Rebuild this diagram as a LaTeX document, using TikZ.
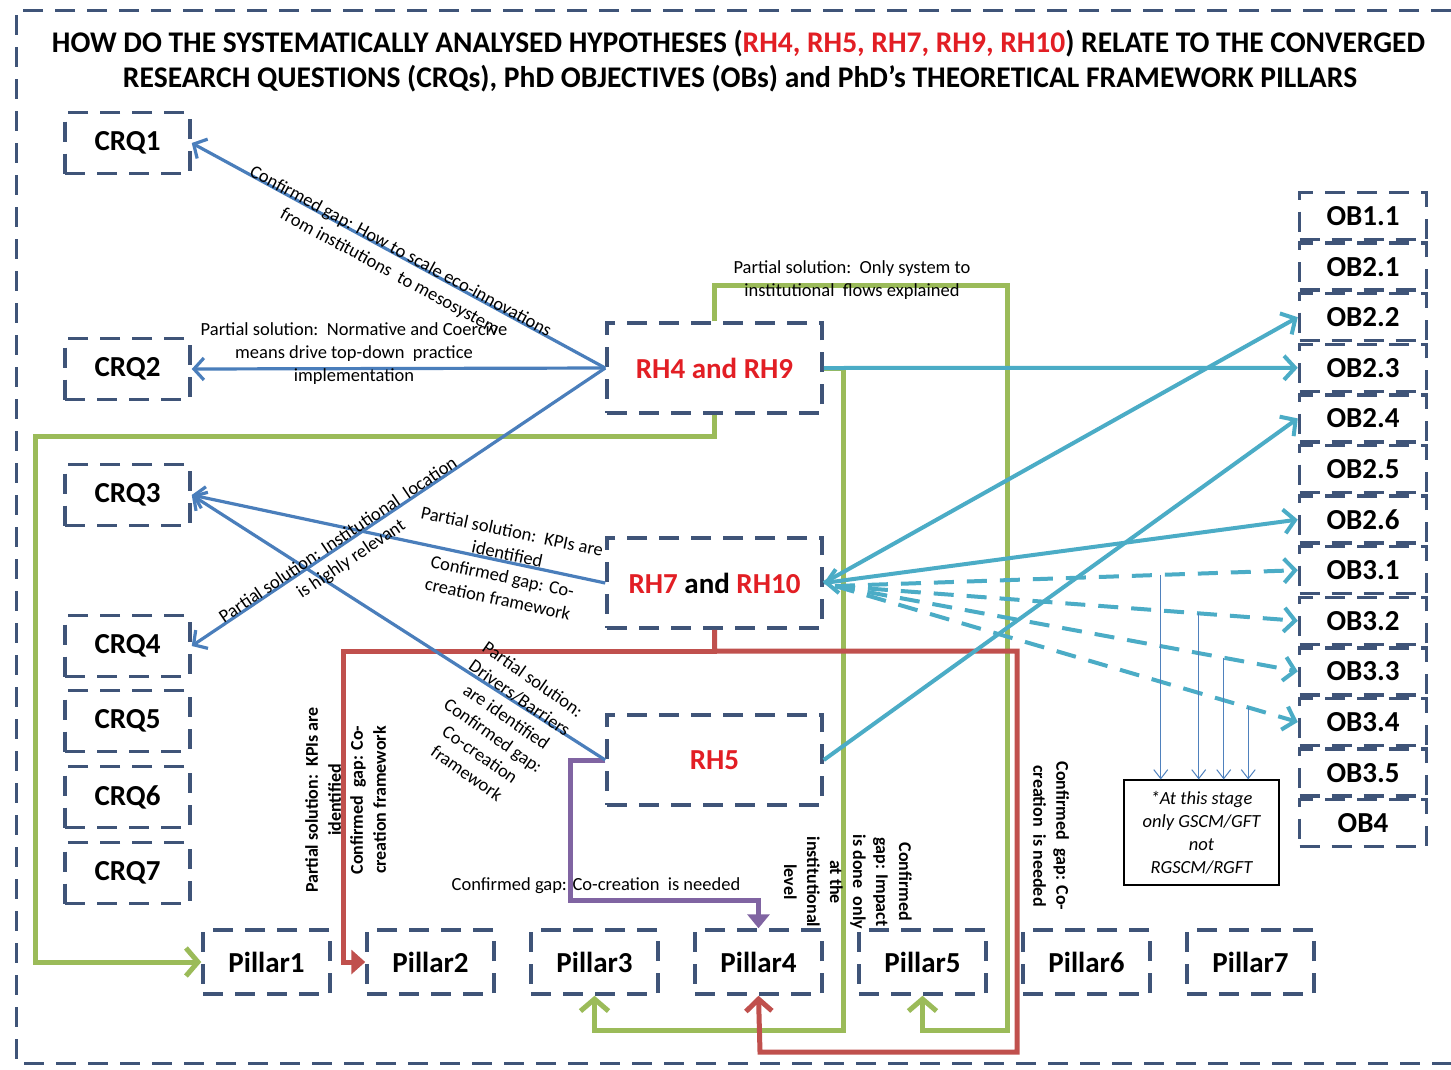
\documentclass[tikz,border=0pt]{standalone}
\usepackage{fontspec}
\usepackage{graphicx}
\setmainfont{Carlito}
\usetikzlibrary{arrows.meta,calc}
\definecolor{boxc}{RGB}{63,84,120}
\definecolor{rhred}{RGB}{226,30,36}
\definecolor{arrblue}{RGB}{74,126,187}
\definecolor{arrteal}{RGB}{75,172,198}
\definecolor{lngreen}{RGB}{155,187,89}
\definecolor{lnred}{RGB}{192,80,77}
\definecolor{lnpurple}{RGB}{128,100,162}
\definecolor{thinblue}{RGB}{79,129,189}

\begin{document}
\begin{tikzpicture}[x=1pt,y=-1pt,
  dbox/.style={draw=boxc, line width=3.5pt, dash pattern=on 20pt off 12pt,
    inner sep=0pt, font=\fontsize{29}{33}\selectfont\bfseries},
  crq/.style={dbox, minimum width=125pt, minimum height=61pt},
  rh/.style={dbox, minimum width=215pt, minimum height=90pt, text=rhred},
  ob/.style={dbox, minimum width=127pt, minimum height=47pt},
  pil/.style={dbox, minimum width=127pt, minimum height=64pt},
  lbl/.style={font=\fontsize{18.5}{23}\selectfont, align=center, inner sep=0pt},
  blbl/.style={font=\fontsize{18}{23}\selectfont\bfseries, align=center, inner sep=0pt},
  bluearr/.style={draw=arrblue, line width=3.2pt,
    -{Straight Barb[length=10pt,width=22pt]}},
  tealarr/.style={draw=arrteal, line width=4pt,
    -{Straight Barb[length=11pt,width=24pt]}},
  tealdash/.style={tealarr, dash pattern=on 20pt off 13pt},
  greenln/.style={draw=lngreen, line width=5pt},
  greenarr/.style={greenln, -{Straight Barb[length=12pt,width=28pt]}},
  redln/.style={draw=lnred, line width=5pt},
  thinarr/.style={draw=thinblue, line width=1pt,
    -{Straight Barb[length=9pt,width=14pt]}},
]
\useasboundingbox (0,0) rectangle (1451,1069);
\fill[white] (0,0) rectangle (1451,1069);

% outer dashed frame
\draw[boxc, line width=3pt, dash pattern=on 20pt off 12pt]
  (1451,10) -- (16,10) -- (16,1063) -- (1451,1063);

% heading
\node[font=\fontsize{30}{34}\selectfont\bfseries, inner sep=0pt] (title1) at (738.5,44)
  {\resizebox{1373pt}{\height}{HOW DO THE SYSTEMATICALLY ANALYSED HYPOTHESES (\textcolor{rhred}{RH4, RH5, RH7, RH9, RH10}) RELATE TO THE CONVERGED}};
\node[font=\fontsize{30}{34}\selectfont\bfseries, inner sep=0pt] (title2) at (740,79)
  {\resizebox{1234pt}{\height}{RESEARCH QUESTIONS (CRQs), PhD OBJECTIVES (OBs) and PhD’s THEORETICAL FRAMEWORK PILLARS}};

% research questions
\node[crq] (CRQ1) at (127.5,143) {CRQ1};
\node[crq] (CRQ2) at (127.5,369) {CRQ2};
\node[crq] (CRQ3) at (127.5,495) {CRQ3};
\node[crq] (CRQ4) at (127.5,646) {CRQ4};
\node[crq] (CRQ5) at (127.5,721) {CRQ5};
\node[crq] (CRQ6) at (127.5,797) {CRQ6};
\node[crq] (CRQ7) at (127.5,873) {CRQ7};

% hypotheses
\node[rh] (RH49) at (714.5,368) {RH4 and RH9};
\node[rh] (RH710) at (714.5,583) {RH7 \textcolor{black}{and} RH10};
\node[rh] (RH5) at (714.5,760) {RH5};

% objectives
\foreach \n/\t [count=\i from 0] in {OB11/OB1.1,OB21/OB2.1,OB22/OB2.2,OB23/OB2.3,OB24/OB2.4,OB25/OB2.5,OB26/OB2.6,OB31/OB3.1,OB32/OB3.2,OB33/OB3.3,OB34/OB3.4,OB35/OB3.5,OB4/OB4}
  \node[ob] (\n) at (1363,216+50.6*\i) {\t};

% pillars
\foreach \i in {1,...,7}
  \node[pil] (P\i) at (266.5+164*\i-164,962) {Pillar\i};

% note
\node[draw=black, line width=1.2pt, minimum width=155pt, minimum height=105pt, inner sep=0pt,
  font=\fontsize{18.5}{23}\selectfont\itshape, align=center] (note) at (1201.5,832.5)
  {*At this stage\\only GSCM/GFT\\not\\RGSCM/RGFT};

% green links
\draw[greenarr] (RH49.south) -- ++(0,22) -| (35,962) -- (P1.west);
\draw[greenarr] (RH49.north) -- ++(0,-36) -| (1007,1030) -| (P5.south);
\draw[greenarr] (RH49.east) -| (843,1030) -| (P3.south);

% red links
\draw[redln, -{Triangle[length=14pt,width=24pt]}] (RH710.south) |- (343,651) |- (P2.west);
\draw[redln, -{Straight Barb[length=12pt,width=26pt]}] (RH710.south) |- (1017,651) |- (760,1052) -- (P4.south);

% purple link
\draw[draw=lnpurple, line width=5pt, -{Triangle[length=14pt,width=22pt]}]
  (RH5.west) -| (570,900) -| (P4.north);

% blue links to research questions
\draw[bluearr] (RH49.west) -- (CRQ1.east);
\draw[bluearr] (RH49.west) -- (CRQ2.east);
\draw[bluearr] (RH49.west) -- (CRQ4.east);
\draw[bluearr] (RH710.west) -- (CRQ3.east);
\draw[bluearr] (RH5.west) -- (CRQ3.east);

% teal links to objectives
\draw[tealarr] (RH49.east) -- (OB23.west);
\draw[tealarr] (RH710.east) -- (OB22.west);
\draw[tealarr, {Straight Barb[length=11pt,width=24pt]}-{Straight Barb[length=11pt,width=24pt]}] (RH710.east) -- (OB26.west);
\draw[tealarr] (RH5.east) -- (OB24.west);

\coordinate (d0) at (835,586);
\draw[tealdash] (d0) -- coordinate[pos=0.704] (n1) (OB31.west);
\draw[tealdash] (d0) -- coordinate[pos=0.786] (n2) (OB32.west);
\draw[tealdash] (d0) -- coordinate[pos=0.840] (n3) (OB33.west);
\draw[tealdash] (d0) -- coordinate[pos=0.893] (n4) (OB34.west);

% pointers to the note
\foreach \c in {n1,n2,n3,n4}
  \draw[thinarr] (\c) -- (\c |- note.north);

% labels
\node[lbl, rotate=-28.5] (lA) at (395,262)
  {Confirmed gap: How to scale eco-innovations\\from institutions\ \ to mesosystem};
\node[lbl] (lB) at (354,354)
  {Partial solution:\ \ Normative and Coercive\\means drive top-down\ \ practice\\implementation};
\node[lbl, rotate=34] (lC) at (345,550)
  {Partial solution: Institutional\ \ location\\is highly relevant};
\node[lbl, rotate=-12] (lD) at (505,565)
  {Partial solution:\ \ KPIs are\\identified\\Confirmed gap: Co-\\creation framework};
\node[lbl, rotate=-35] (lE) at (500,726)
  {Partial solution:\\Drivers/Barriers\\are identified\\Confirmed gap:\\Co-creation\\framework};
\node[blbl, rotate=90] (lF) at (323,800)
  {Partial solution:\ \ KPIs are\\identified};
\node[blbl, rotate=90] (lG) at (368,800)
  {Confirmed\ \ gap: Co-\\creation framework};
\node[lbl] (lH) at (596,886) {Confirmed gap: Co-creation\ \ is needed};
\node[blbl, rotate=-90] (lI) at (848,882)
  {Confirmed\\gap: Impact\\is done\ \ only\\at the\\institutional\\level};
\node[blbl, rotate=-90] (lJ) at (1051,836)
  {Confirmed\ \ gap: Co-\\creation\ \ is needed};
\node[lbl] (lK) at (852,280)
  {Partial solution:\ \ Only system to\\institutional\ \ flows explained};
\end{tikzpicture}
\end{document}
